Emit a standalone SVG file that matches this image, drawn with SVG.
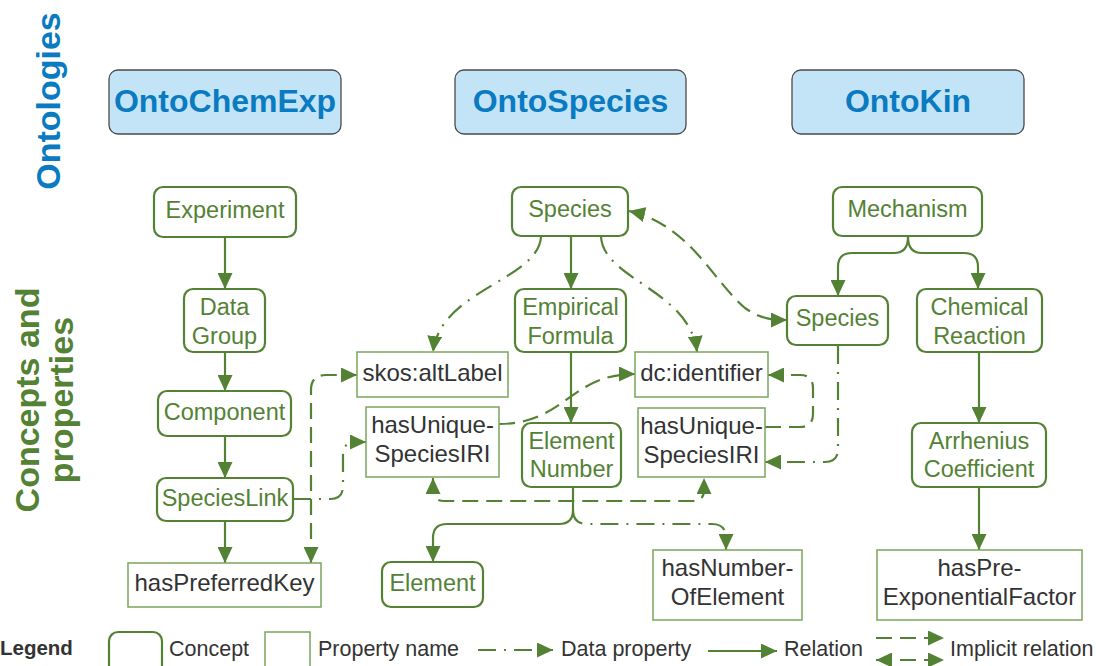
<svg xmlns="http://www.w3.org/2000/svg" width="1096" height="666" viewBox="0 0 1096 666">
<defs>
<marker id="ah" markerUnits="userSpaceOnUse" markerWidth="17" markerHeight="15" viewBox="0 0 17 15" refX="16" refY="7.5" orient="auto-start-reverse">
<path d="M0,0 L16,7.5 L0,15 z" fill="#548235"/>
</marker>
<style>
.hdr rect{fill:#c3e4f7;stroke:#4a4a4a;stroke-width:1.3}
.hdr text{font-family:"Liberation Sans",Arial,sans-serif;font-weight:bold;font-size:32px;fill:#0a7bc0;text-anchor:middle}
.con rect{fill:#fff;stroke:#548235;stroke-width:2.2}
.con text{font-family:"Liberation Sans",Arial,sans-serif;font-size:23.5px;fill:#548235;text-anchor:middle}
.prop rect{fill:#fff;stroke:#7aa65c;stroke-width:1.5}
.prop text{font-family:"Liberation Sans",Arial,sans-serif;font-size:24px;fill:#333;text-anchor:middle}
.c path{fill:none;stroke:#548235;stroke-width:2.2}
.dp{stroke-dasharray:18 8 2 8}
.im{stroke-dasharray:16 8}
.side{font-family:"Liberation Sans",Arial,sans-serif;font-weight:bold;font-size:34px;text-anchor:middle}
.leg{font-family:"Liberation Sans",Arial,sans-serif;font-size:21.5px;fill:#333}
</style>
</defs>
<rect width="1096" height="666" fill="#fff"/>

<text class="side" fill="#0a7bc0" transform="translate(60,101) rotate(-90)">Ontologies</text>
<text class="side" fill="#548235" transform="translate(39,400) rotate(-90)">Concepts and</text>
<text class="side" fill="#548235" transform="translate(73,400) rotate(-90)">properties</text>

<g id="h-ontochemexp" class="hdr"><rect x="109" y="70" width="232" height="64" rx="9"/><text x="225" y="112">OntoChemExp</text></g>
<g id="h-ontospecies" class="hdr"><rect x="455" y="70" width="231" height="64" rx="9"/><text x="570.5" y="112">OntoSpecies</text></g>
<g id="h-ontokin" class="hdr"><rect x="792" y="70" width="232" height="64" rx="9"/><text x="908" y="112">OntoKin</text></g>

<g id="connectors" class="c">
<path d="M225 237 L225 289" marker-end="url(#ah)"/>
<path d="M225 352 L225 391" marker-end="url(#ah)"/>
<path d="M225 436 L225 478" marker-end="url(#ah)"/>
<path d="M225 521 L225 563" marker-end="url(#ah)"/>
<path class="dp" d="M293 499 L330 499 Q343 499 343 486 L343 455 Q343 442 356 442 L366 442" marker-end="url(#ah)"/>
<path class="im" d="M311 563 L311 390 Q311 375 326 375 L357 375" marker-start="url(#ah)" marker-end="url(#ah)"/>
<path class="dp" d="M541 237 C538 280 440 290 433 352" marker-end="url(#ah)"/>
<path d="M571 236 L571 289" marker-end="url(#ah)"/>
<path class="dp" d="M601 237 C604 280 690 290 697 352" marker-end="url(#ah)"/>
<path class="im" d="M629 211 C690 225 712 280 745 308 C762 320 775 320 787 320" marker-start="url(#ah)" marker-end="url(#ah)"/>
<path d="M571 352 L571 423" marker-end="url(#ah)"/>
<path d="M573 487 L573 510 Q573 524 559 524 L447 524 Q433 524 433 538 L433 562" marker-end="url(#ah)"/>
<path class="dp" d="M573 510 Q573 524 587 524 L712 524 Q726 524 726 538 L726 550" marker-end="url(#ah)"/>
<path class="im" d="M433 478 L433 490 Q433 501 444 501 L693 501 Q704 501 704 490 L704 478" marker-start="url(#ah)" marker-end="url(#ah)"/>
<path class="im" d="M499 424 C565 424 570 374 635 374" marker-end="url(#ah)"/>
<path class="im" d="M765 427 L800 427 Q813 427 813 414 L813 388 Q813 375 800 375 L768 375" marker-end="url(#ah)"/>
<path class="dp" d="M838 346 L838 449 Q838 462 825 462 L765 462" marker-end="url(#ah)"/>
<path d="M908 237 Q908 253 894 253 L852 253 Q838 253 838 267 L838 296" marker-end="url(#ah)"/>
<path d="M908 237 Q908 253 922 253 L964 253 Q978 253 978 267 L978 289" marker-end="url(#ah)"/>
<path d="M979 352 L979 423" marker-end="url(#ah)"/>
<path d="M979 487 L979 550" marker-end="url(#ah)"/>
</g>

<g id="n-experiment" class="con"><rect x="154" y="187" width="142" height="50" rx="9"/><text x="225" y="218">Experiment</text></g>
<g id="n-datagroup" class="con"><rect x="184" y="289" width="81" height="63" rx="9"/><text x="224.5" y="315">Data</text><text x="224.5" y="344">Group</text></g>
<g id="n-component" class="con"><rect x="158" y="391" width="133" height="45" rx="9"/><text x="224.5" y="420">Component</text></g>
<g id="n-specieslink" class="con"><rect x="157" y="478" width="136" height="43" rx="9"/><text x="225" y="506">SpeciesLink</text></g>
<g id="n-species" class="con"><rect x="512" y="187" width="116" height="49" rx="9"/><text x="570" y="217">Species</text></g>
<g id="n-empirical" class="con"><rect x="515" y="289" width="111" height="63" rx="9"/><text x="570.5" y="315">Empirical</text><text x="570.5" y="344">Formula</text></g>
<g id="n-elementnumber" class="con"><rect x="522" y="423" width="99" height="64" rx="9"/><text x="571.5" y="449">Element</text><text x="571.5" y="477">Number</text></g>
<g id="n-element" class="con"><rect x="382" y="562" width="101" height="45" rx="9"/><text x="432.5" y="591">Element</text></g>
<g id="n-mechanism" class="con"><rect x="833" y="187" width="149" height="49" rx="9"/><text x="907.5" y="217">Mechanism</text></g>
<g id="n-species-kin" class="con"><rect x="787" y="296" width="101" height="49" rx="9"/><text x="837.5" y="326">Species</text></g>
<g id="n-reaction" class="con"><rect x="917" y="289" width="125" height="63" rx="9"/><text x="979.5" y="315">Chemical</text><text x="979.5" y="344">Reaction</text></g>
<g id="n-arrhenius" class="con"><rect x="912" y="423" width="134" height="64" rx="9"/><text x="979" y="449">Arrhenius</text><text x="979" y="477">Coefficient</text></g>

<g id="p-preferredkey" class="prop"><rect x="128" y="563" width="193" height="44"/><text x="224.5" y="591">hasPreferredKey</text></g>
<g id="p-altlabel" class="prop"><rect x="357" y="352" width="151" height="45"/><text x="432.5" y="381">skos:altLabel</text></g>
<g id="p-iri-left" class="prop"><rect x="366" y="407" width="133" height="70"/><text x="432.5" y="433">hasUnique-</text><text x="432.5" y="462">SpeciesIRI</text></g>
<g id="p-identifier" class="prop"><rect x="635" y="352" width="133" height="45"/><text x="701.5" y="381">dc:identifier</text></g>
<g id="p-iri-right" class="prop"><rect x="638" y="408" width="127" height="69"/><text x="701.5" y="434">hasUnique-</text><text x="701.5" y="463">SpeciesIRI</text></g>
<g id="p-numberofelement" class="prop"><rect x="653" y="550" width="149" height="70"/><text x="727.5" y="576">hasNumber-</text><text x="727.5" y="605">OfElement</text></g>
<g id="p-preexp" class="prop"><rect x="877" y="550" width="205" height="70"/><text x="979.5" y="576">hasPre-</text><text x="979.5" y="605">ExponentialFactor</text></g>

<g id="legend">
<text x="0" y="655" font-family="Liberation Sans, Arial, sans-serif" font-weight="bold" font-size="20.5" fill="#333">Legend</text>
<rect x="109" y="632" width="53" height="50" rx="9" fill="#fff" stroke="#548235" stroke-width="2.2"/>
<text class="leg" x="169" y="656">Concept</text>
<rect x="265" y="632" width="45" height="50" fill="#fff" stroke="#7aa65c" stroke-width="1.5"/>
<text class="leg" x="318" y="656">Property name</text>
<g class="c">
<path class="dp" d="M478 650 L553 650" stroke="#6aa341" marker-end="url(#ah)"/>
<path d="M708 651 L777 651" marker-end="url(#ah)"/>
<path class="im" d="M876 638 L944 638" marker-end="url(#ah)"/>
<path class="im" d="M876 660 L944 660" marker-start="url(#ah)" marker-end="url(#ah)"/>
</g>
<text class="leg" x="561" y="656">Data property</text>
<text class="leg" x="784" y="656">Relation</text>
<text class="leg" x="950" y="656">Implicit relation</text>
</g>
</svg>
